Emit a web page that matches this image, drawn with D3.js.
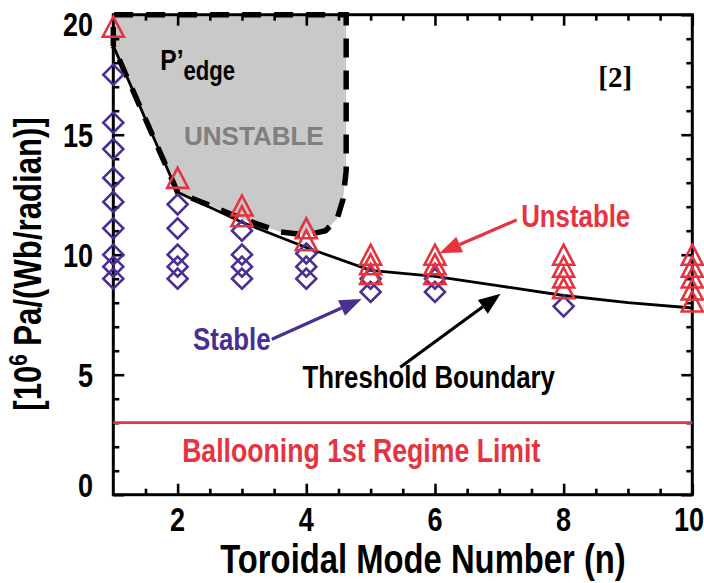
<!DOCTYPE html>
<html><head><meta charset="utf-8">
<script src="https://cdn.jsdelivr.net/npm/d3@7"></script>
<style>body{margin:0;background:#fff}svg{display:block}</style>
</head><body><svg id="c" width="704" height="583"></svg>
<script>
// ---- data ----
const xTickValues = [2, 4, 6, 8, 10];
const yTickValues = [0, 5, 10, 15, 20];
const stableN = [1,1,1,1,1,1,1,1,1, 2,2,2,2,2, 3,3,3,3, 4,4,4, 5,5, 6,6, 8];
const stableP = [17.5,15.5,14.4,13.2,12.2,11.1,10.0,9.5,9.0, 12.1,11.1,10.0,9.5,9.0, 11.0,10.0,9.5,9.0, 10.05,9.5,9.0, 9.0,8.45, 9.0,8.45, 7.85];
const unstableN = [1, 2, 3,3, 4,4, 5,5,5, 6,6,6, 8,8,8,8, 10,10,10,10,10];
const unstableP = [19.5, 13.2, 12.05,11.6, 11.1,10.6, 10.0,9.6,9.2, 10.0,9.6,9.2, 10.0,9.5,9.05,8.6, 10.0,9.5,9.05,8.55,8.05];
const thresholdN = [1, 2, 3, 4, 5, 6, 7, 8, 9, 10];
const thresholdP = [18.7, 12.6, 11.35, 10.3, 9.35, 9.1, 8.7, 8.3, 8.0, 7.78];
const regionN = [1, 1, 4.62, 4.62, 4.57, 4.48, 4.3, 4.0, 3.6, 3.0, 2.5, 2.0, 1];
const regionP = [18.7, 20, 20, 13.5, 12.3, 11.5, 11.0, 10.82, 10.95, 11.5, 12.05, 12.6, 18.7];
const ballooningLimit = 3.0;

// ---- setup ----
const RED = "#e5333f", PURPLE = "#4a2e92";
const svg = d3.select("#c");
const x = d3.scaleLinear().domain([1, 10]).range([113.3, 692.3]);
const y = d3.scaleLinear().domain([0, 20]).range([494.7, 14.7]);
const SANS = "'Liberation Sans', Arial, Helvetica, sans-serif";

function ntext(sel, px, py, str, size, color, anchor, rot) {
  const g = sel.append("g").attr("transform",
    `translate(${px},${py})` + (rot ? ` rotate(${rot})` : "") + " scale(0.82,1)");
  return g.append("text").attr("font-family", SANS).attr("font-weight", "bold")
    .attr("font-size", size).attr("fill", color || "#000")
    .attr("text-anchor", anchor || "start").text(str);
}

// ---- unstable region ----
const regionPts = regionN.map((n, i) => [n, regionP[i]]);
const rline = d3.line().x(d => x(d[0])).y(d => y(d[1]));
svg.append("path").attr("d", rline(regionPts)).attr("fill", "#c9c9c9").attr("stroke", "none");

// ---- axes ----
const ax = svg.append("g").attr("stroke", "#000").attr("fill", "none");
function addAxis(gen, tr) {
  const g = ax.append("g").attr("transform", tr).call(gen);
  g.selectAll("text").remove();
  g.select(".domain").remove();
  g.selectAll("line").attr("stroke", "#000").attr("stroke-width", 2.6);
}
const xMinor = d3.range(1.5, 10, 0.5).filter(v => v % 2 !== 0);
const yMinor = d3.range(1, 20, 1).filter(v => v % 5 !== 0);
addAxis(d3.axisBottom(x).tickValues(xTickValues).tickSize(-11), `translate(0,${y(0)})`);
addAxis(d3.axisBottom(x).tickValues(xMinor).tickSize(-6), `translate(0,${y(0)})`);
addAxis(d3.axisTop(x).tickValues(xTickValues).tickSize(-11), `translate(0,${y(20)})`);
addAxis(d3.axisTop(x).tickValues(xMinor).tickSize(-6), `translate(0,${y(20)})`);
addAxis(d3.axisLeft(y).tickValues(yTickValues).tickSize(-11), `translate(${x(1)},0)`);
addAxis(d3.axisLeft(y).tickValues(yMinor).tickSize(-6), `translate(${x(1)},0)`);
addAxis(d3.axisRight(y).tickValues(yTickValues).tickSize(-11), `translate(${x(10)},0)`);
addAxis(d3.axisRight(y).tickValues(yMinor).tickSize(-6), `translate(${x(10)},0)`);
svg.append("rect").attr("x", x(1)).attr("y", y(20)).attr("width", x(10) - x(1)).attr("height", y(0) - y(20))
  .attr("fill", "none").attr("stroke", "#000").attr("stroke-width", 3);

// dashed boundary of unstable region
svg.append("path").attr("d", rline(regionPts)).attr("fill", "none").attr("stroke", "#000")
  .attr("stroke-width", 5.5).attr("stroke-dasharray", "19,13");

// tick labels
xTickValues.forEach(v => {
  const px = Math.min(x(v), 703 - 14);
  ntext(svg, px, 531, String(v), 33, "#000", "middle");
});
yTickValues.forEach(v => {
  const off = v === 20 ? 9.5 : (v === 0 ? -9.5 : 0);
  ntext(svg, 93, y(v) + off + 12, String(v), 33, "#000", "end");
});

// axis titles
ntext(svg, 423, 573, "Toroidal Mode Number (n)", 40, "#000", "middle");
const yt = ntext(svg, 41, 264, "", 38, "#000", "middle", -90);
yt.append("tspan").text("[10");
yt.append("tspan").attr("font-size", 25).attr("dy", -14).text("6");
yt.append("tspan").attr("dy", 14).text(" Pa/(Wb/radian)]");

// ballooning limit
svg.append("line").attr("x1", x(1)).attr("x2", x(10)).attr("y1", y(ballooningLimit)).attr("y2", y(ballooningLimit))
  .attr("stroke", RED).attr("stroke-width", 2.8);

// threshold boundary
svg.append("path").attr("d", d3.line().x((d, i) => x(thresholdN[i])).y(d => y(d))(thresholdP))
  .attr("fill", "none").attr("stroke", "#000").attr("stroke-width", 2.8);

// markers
svg.append("g").selectAll("path").data(stableN).join("path")
  .attr("transform", (d, i) => `translate(${x(d)},${y(stableP[i])})`)
  .attr("d", "M0,-10L10,0L0,10L-10,0Z").attr("fill", "none").attr("stroke", PURPLE).attr("stroke-width", 2.6);
svg.append("g").selectAll("path").data(unstableN).join("path")
  .attr("transform", (d, i) => `translate(${x(d)},${y(unstableP[i])})`)
  .attr("d", "M0,-10L10.5,10L-10.5,10Z").attr("fill", "none").attr("stroke", RED).attr("stroke-width", 2.6);

// arrows
function arrow(n1, p1, n2, p2, color) {
  const x1 = x(n1), y1 = y(p1), x2 = x(n2), y2 = y(p2);
  const ang = Math.atan2(y2 - y1, x2 - x1), L = 22, W = 8.5;
  const bx = x2 - L * Math.cos(ang), by = y2 - L * Math.sin(ang);
  svg.append("line").attr("x1", x1).attr("y1", y1).attr("x2", bx).attr("y2", by)
    .attr("stroke", color).attr("stroke-width", 3.2);
  const px = -Math.sin(ang) * W, py = Math.cos(ang) * W;
  svg.append("path").attr("d", `M${x2},${y2}L${bx + px},${by + py}L${bx - px},${by - py}Z`).attr("fill", color);
}
arrow(7.27, 11.45, 6.07, 10.06, RED);
arrow(3.465, 6.48, 4.86, 8.15, PURPLE);
arrow(5.46, 5.31, 7.02, 8.37, "#000");

// annotations
ntext(svg, x(7.34), y(11.15), "Unstable", 31.5, RED, "start");
ntext(svg, x(2.24), y(6.03), "Stable", 31.5, PURPLE, "start");
ntext(svg, x(3.94), y(4.45), "Threshold Boundary", 31.5, "#000", "start");
ntext(svg, x(2.07), y(1.36), "Ballooning 1st Regime Limit", 32.5, RED, "start");
svg.append("text").attr("x", x(2.10)).attr("y", y(14.57)).attr("font-family", SANS).attr("font-weight", "bold")
  .attr("font-size", 26).attr("fill", "#7f7f7f").text("UNSTABLE");
const pe = ntext(svg, x(1.73), y(17.7), "", 30, "#000", "start");
pe.append("tspan").text("P\u2019");
pe.append("tspan").attr("font-size", 27).attr("dy", 10).text("edge");
svg.append("text").attr("x", x(8.54)).attr("y", 87).attr("font-family", "'Liberation Serif', 'Times New Roman', serif")
  .attr("font-weight", "bold").attr("font-size", 29).text("[2]");
</script></body></html>
